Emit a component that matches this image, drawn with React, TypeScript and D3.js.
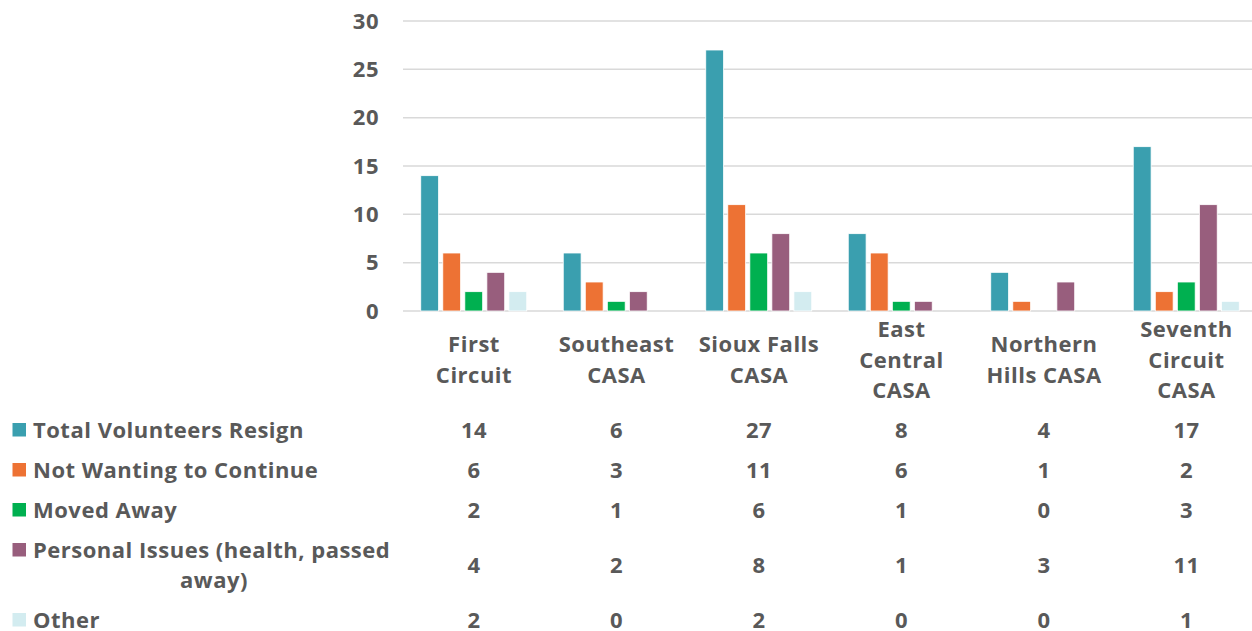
import React from "react";
import * as d3 from "d3";

const categories = [
  ["First", "Circuit"],
  ["Southeast", "CASA"],
  ["Sioux Falls", "CASA"],
  ["East", "Central", "CASA"],
  ["Northern", "Hills CASA"],
  ["Seventh", "Circuit", "CASA"],
];
const seriesNames = [
  ["Total Volunteers Resign"],
  ["Not Wanting to Continue"],
  ["Moved Away"],
  ["Personal Issues (health, passed", "away)"],
  ["Other"],
];
const totalResign = [14, 6, 27, 8, 4, 17];
const notWanting = [6, 3, 11, 6, 1, 2];
const movedAway = [2, 1, 6, 1, 0, 3];
const personal = [4, 2, 8, 1, 3, 11];
const other = [2, 0, 2, 0, 0, 1];
const seriesValues = [totalResign, notWanting, movedAway, personal, other];
const colors = ["#3A9FAF", "#ED7234", "#00B050", "#985E7D", "#D3ECF0"];
const yTicks = [0, 5, 10, 15, 20, 25, 30];

const W = 1252;
const H = 631;
const FONT = "'Open Sans', Lato, sans-serif";
const TEXT = "#595959";
const FS = 22;
const LS = 0.5;

export default function App() {
  const x0 = d3
    .scaleBand<number>()
    .domain(d3.range(categories.length))
    .range([402.75, 402.75 + 142.5 * 6])
    .paddingInner(0)
    .paddingOuter(0);
  const x1 = d3
    .scaleBand<number>()
    .domain(d3.range(seriesValues.length))
    .range([18, 124])
    .paddingInner(0.19)
    .paddingOuter(0);
  const y = d3.scaleLinear().domain([0, 30]).range([311, 21]);

  const rowY = [430, 470, 510, 565, 620];

  return (
    <svg width={W} height={H} style={{ position: "absolute", left: 0, top: 0, background: "#fff" }} fontFamily={FONT} fontWeight={700} letterSpacing={LS}>
      <rect width={W} height={H} fill="#fff" />
      {yTicks.map((t) => (
        <g key={t}>
          <line x1={403} x2={W} y1={y(t)} y2={y(t)} stroke="#D9D9D9" strokeWidth={1.5} />
          <text x={379} y={y(t)} dy="0.35em" textAnchor="end" fontSize={FS} fill={TEXT}>
            {t}
          </text>
        </g>
      ))}
      {seriesValues.map((vals, si) =>
        vals.map((v, ci) =>
          v > 0 ? (
            <rect
              key={`${si}-${ci}`}
              x={(x0(ci) as number) + (x1(si) as number)}
              y={y(v)}
              width={x1.bandwidth()}
              height={y(0) - y(v)}
              fill={colors[si]}
              stroke="#fff"
              strokeWidth={0.8}
            />
          ) : null
        )
      )}
      {categories.map((lines, ci) => {
        const cx = (x0(ci) as number) + x0.bandwidth() / 2;
        const lh = 30.5;
        const start = 360 - ((lines.length - 1) * lh) / 2;
        return (
          <text key={ci} textAnchor="middle" fontSize={FS} fill={TEXT}>
            {lines.map((l, li) => (
              <tspan key={li} x={cx} y={start + li * lh} dy="0.35em">
                {l}
              </tspan>
            ))}
          </text>
        );
      })}
      {seriesNames.map((lines, si) => {
        const ry = rowY[si];
        const ly = lines.length > 1 ? ry - 15 : ry;
        return (
          <g key={si}>
            <rect x={12.5} y={ly - 7} width={13.5} height={13.5} fill={colors[si]} />
            <text fontSize={FS} fill={TEXT}>
              <tspan x={33} y={ly} dy="0.35em">{lines[0]}</tspan>
              {lines[1] ? (
                <tspan x={214} y={ly + 30} dy="0.35em" textAnchor="middle">{lines[1]}</tspan>
              ) : null}
            </text>
            {seriesValues[si].map((v, ci) => (
              <text
                key={ci}
                x={(x0(ci) as number) + x0.bandwidth() / 2}
                y={ry}
                dy="0.35em"
                textAnchor="middle"
                fontSize={FS}
                fill={TEXT}
              >
                {v}
              </text>
            ))}
          </g>
        );
      })}
    </svg>
  );
}
